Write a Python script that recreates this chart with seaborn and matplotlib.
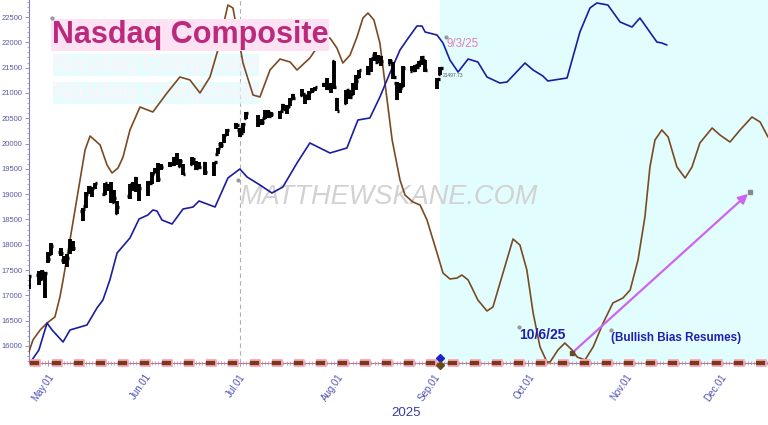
import numpy as np
import pandas as pd
import matplotlib
matplotlib.use("Agg")
import matplotlib.pyplot as plt
import matplotlib.dates as mdates
import seaborn as sns

sns.set_style("white")
plt.rcParams["font.family"] = ["Liberation Sans", "DejaVu Sans"]

base = pd.Timestamp("2025-05-01")

# --- daily OHLC bars (Nasdaq Composite)
bar_dates = [
    "2025-04-25", "2025-04-28", "2025-04-29", "2025-04-30", "2025-05-01", "2025-05-02",
    "2025-05-05", "2025-05-06", "2025-05-07", "2025-05-08", "2025-05-09",
    "2025-05-12", "2025-05-13", "2025-05-14", "2025-05-15", "2025-05-16",
    "2025-05-19", "2025-05-20", "2025-05-21", "2025-05-22", "2025-05-23",
    "2025-05-27", "2025-05-28", "2025-05-29", "2025-05-30",
    "2025-06-02", "2025-06-03", "2025-06-04", "2025-06-05", "2025-06-06",
    "2025-06-09", "2025-06-10", "2025-06-11", "2025-06-12", "2025-06-13",
    "2025-06-16", "2025-06-17", "2025-06-18", "2025-06-20",
    "2025-06-23", "2025-06-24", "2025-06-25", "2025-06-26", "2025-06-27",
    "2025-06-30", "2025-07-01", "2025-07-02", "2025-07-03",
    "2025-07-07", "2025-07-08", "2025-07-09", "2025-07-10", "2025-07-11",
    "2025-07-14", "2025-07-15", "2025-07-16", "2025-07-17", "2025-07-18",
    "2025-07-21", "2025-07-22", "2025-07-23", "2025-07-24", "2025-07-25",
    "2025-07-28", "2025-07-29", "2025-07-30", "2025-07-31", "2025-08-01",
    "2025-08-04", "2025-08-05", "2025-08-06", "2025-08-07", "2025-08-08",
    "2025-08-11", "2025-08-12", "2025-08-13", "2025-08-14", "2025-08-15",
    "2025-08-18", "2025-08-19", "2025-08-20", "2025-08-21", "2025-08-22",
    "2025-08-25", "2025-08-26", "2025-08-27", "2025-08-28", "2025-08-29",
    "2025-09-02", "2025-09-03",
]
bar_open = [
    17180, 17400, 17320, 17150, 17770, 17820,
    17850, 17700, 17740, 17890, 17990,
    18660, 18760, 19080, 19010, 19140,
    19000, 19130, 19070, 18850, 18630,
    18970, 19210, 19310, 19150,
    19070, 19230, 19440, 19500, 19530,
    19590, 19620, 19780, 19550, 19440,
    19590, 19610, 19540, 19610,
    19480, 19800, 19990, 20060, 20220,
    20370, 20270, 20210, 20510,
    20510, 20430, 20500, 20600, 20540,
    20560, 20760, 20700, 20750, 20950,
    20950, 20960, 20950, 21060, 21080,
    21170, 21250, 21130, 21630, 20880,
    20800, 21050, 20980, 21300, 21320,
    21460, 21490, 21750, 21620, 21700,
    21580, 21600, 21200, 21080, 21130,
    21440, 21450, 21510, 21640, 21660,
    21170, 21380,
]
bar_high = [
    17395, 17480, 17500, 17460, 17850, 18030,
    17940, 17780, 17820, 18120, 18070,
    18720, 19040, 19170, 19140, 19220,
    19230, 19200, 19240, 19080, 18860,
    19210, 19240, 19340, 19200,
    19260, 19430, 19520, 19610, 19600,
    19640, 19730, 19810, 19690, 19600,
    19740, 19650, 19630, 19640,
    19640, 19920, 20040, 20180, 20290,
    20410, 20310, 20400, 20630,
    20560, 20490, 20660, 20670, 20620,
    20650, 20790, 20770, 20900, 20970,
    21080, 20960, 21030, 21090, 21110,
    21200, 21300, 21200, 21640, 20890,
    21060, 21060, 21190, 21350, 21460,
    21540, 21690, 21800, 21740, 21720,
    21670, 21610, 21210, 21190, 21530,
    21530, 21560, 21630, 21730, 21660,
    21300, 21520,
]
bar_low = [
    17125, 17200, 17300, 16950, 17640, 17790,
    17780, 17620, 17560, 17820, 17870,
    18470, 18720, 19000, 18950, 19100,
    18980, 19060, 18830, 18830, 18600,
    18900, 19070, 19050, 18870,
    18960, 19200, 19420, 19250, 19470,
    19540, 19560, 19580, 19530, 19370,
    19580, 19480, 19500, 19380,
    19350, 19790, 19910, 20010, 20140,
    20280, 20120, 20200, 20480,
    20320, 20370, 20480, 20510, 20520,
    20480, 20670, 20580, 20740, 20860,
    20940, 20790, 20870, 20990, 21030,
    21110, 21050, 20990, 21070, 20650,
    20790, 20880, 20960, 21060, 21290,
    21360, 21410, 21640, 21600, 21530,
    21570, 21280, 20870, 21000, 21120,
    21440, 21420, 21510, 21550, 21410,
    21080, 21350,
]
bar_close = [
    17382, 17366, 17461, 17446, 17710, 17977,
    17844, 17690, 17738, 17928, 17929,
    18708, 19010, 19146, 19112, 19211,
    19215, 19143, 18872, 18926, 18737,
    19199, 19101, 19175, 19114,
    19243, 19399, 19460, 19298, 19530,
    19591, 19715, 19615, 19662, 19407,
    19701, 19521, 19546, 19447,
    19631, 19913, 19973, 20168, 20273,
    20370, 20202, 20394, 20601,
    20412, 20418, 20611, 20630, 20586,
    20640, 20677, 20730, 20885, 20896,
    20974, 20892, 21020, 21058, 21108,
    21179, 21098, 21130, 21122, 20650,
    21053, 20916, 21169, 21242, 21450,
    21385, 21681, 21713, 21710, 21623,
    21630, 21315, 21172, 21100, 21496,
    21449, 21544, 21590, 21705, 21455,
    21280, 21497,
]

# --- blue projection line (days from May 1, value)
proj_day = [-6.7, -5.1, -2.9, -0.3, 1.3, 4.8, 7.0, 12.4, 15.6, 17.5, 19.7, 22.0,
            26.1, 29.0, 31.8, 33.4, 34.7, 36.3, 39.5, 43.0, 46.2, 48.1, 53.2,
            57.3, 61.1, 63.4, 67.5, 71.3, 74.8, 79.3, 83.4, 89.8, 95.2, 98.7,
            102.5, 105.7, 108.9, 112.1, 114.3, 117.5, 119.1, 120.1, 123.9, 125.8,
            128.0, 130.6, 133.8, 136.9, 139.8, 143.9, 146.2, 151.9, 154.5, 157.6,
            159.2, 165.3, 169.4, 172.6, 174.8, 178.3, 182.2, 186.0, 188.5, 190.1,
            193.9, 195.5, 197.1]
proj_val = [15467, 15723, 15921, 16454, 16316, 16079, 16316, 16415, 16751, 16909, 17304, 17837,
            18134, 18509, 18588, 18687, 18667, 18489, 18410, 18706, 18746, 18865, 18746,
            19319, 19497, 19339, 19181, 19023, 19141, 19616, 20011, 19813, 19912, 20465,
            20505, 20920, 21394, 21848, 22046, 22322, 22322, 22204, 22144, 21986,
            21651, 21413, 21670, 21611, 21315, 21196, 21216, 21591, 21453, 21334,
            21236, 21295, 22204, 22678, 22777, 22737, 22401, 22302, 22480, 22342,
            22006, 21986, 21947]

# --- brown cycle curve (days from May 1, value)
cycle_day = [-6.4, -4.8, -2.5, -0.3, 2.2, 3.8, 4.8, 7.0, 10.2, 11.8, 13.4, 16.6,
             18.8, 20.4, 22.3, 23.9, 26.1, 29.3, 33.4, 37.9, 42.0, 45.2, 48.4,
             51.6, 54.1, 55.7, 57.3, 58.9, 60.5, 62.1, 65.3, 67.5, 70.7, 73.9,
             77.1, 79.3, 83.4, 87.3, 89.8, 92.0, 93.9, 96.2, 98.4, 100.3, 101.9,
             103.8, 105.7, 108.0, 109.6, 112.1, 113.7, 116.2, 118.5, 120.7, 123.9,
             125.8, 128.0, 130.3, 131.8, 133.8, 136.9, 139.8, 141.7, 144.9, 148.1,
             150.3, 152.5, 154.5, 156.7, 158.9, 159.9, 162.4, 164.6, 166.9, 168.5,
             171.0, 173.6, 176.8, 179.9, 183.1, 185.4, 187.9, 190.1, 191.7, 193.3,
             195.5, 197.5, 200.3, 202.9, 205.1, 207.6, 211.5, 214.0, 217.2, 220.4,
             224.2, 226.8, 229.3]
cycle_val = [15822, 16119, 16316, 16454, 16573, 16968, 17304, 18094, 19280, 19872, 20149, 19971,
             19576, 19418, 19517, 19734, 20268, 20722, 20623, 20999, 21315, 21256, 20999,
             21315, 21848, 22302, 22737, 22678, 22144, 21591, 20959, 20920, 21453, 21670,
             21611, 21453, 21690, 22046, 22085, 21888, 21591, 21749, 22105, 22480, 22579,
             22441, 21986, 20860, 20070, 19280, 18983, 18845, 18786, 18489, 17837,
             17442, 17324, 17343, 17403, 17304, 16909, 16692, 16771, 17442, 18114,
             17995, 17502, 16652, 15980, 15684, 15684, 15921, 16059, 15921, 15783,
             15723, 15980, 16454, 16850, 16948, 17106, 17699, 18549, 19537, 20070,
             20268, 20129, 19537, 19319, 19537, 20011, 20307, 20169, 20030, 20268,
             20524, 20425, 20129]

# arrow (days from May 1, value)
arrow_day = [166.9, 223.6]
arrow_val = [15862, 19043]

y_ticks = list(range(16000, 23000, 500))
month_ticks = ["2025-05-01", "2025-06-01", "2025-07-01", "2025-08-01",
               "2025-09-01", "2025-10-01", "2025-11-01", "2025-12-01"]
month_labels = ["May.01", "Jun.01", "Jul.01", "Aug.01", "Sep.01", "Oct.01", "Nov.01", "Dec.01"]


def day_to_num(d):
    return mdates.date2num(base + pd.to_timedelta(np.asarray(d, dtype=float), unit="D"))


proj = pd.DataFrame({"x": day_to_num(proj_day), "y": proj_val})
cycle = pd.DataFrame({"x": day_to_num(cycle_day), "y": cycle_val})
bx = mdates.date2num(pd.to_datetime(bar_dates))

fig = plt.figure(figsize=(7.68, 4.25), dpi=100)
ax = fig.add_axes([29 / 768, 62 / 425, 739 / 768, 363 / 425])

x0, x1 = day_to_num([-6.05, 229.3])
ax.set_xlim(x0, x1)
ax.set_ylim(15664, 22836)

# shaded forecast zone from 9/3/25
ax.axvspan(mdates.date2num(pd.Timestamp("2025-09-03")), x1, color="#e2fdfd", zorder=0, lw=0)
ax.axvline(mdates.date2num(pd.Timestamp("2025-07-01")), color="#b0b0b0", lw=0.8, ls=(0, (4, 3)), zorder=1)

# watermark and faded echo of the title
ax.text(day_to_num(108.3), 18944, "MATTHEWSKANE.COM", fontsize=19.5, style="italic",
        color="#d2d2d2", ha="center", va="center", zorder=1)
for gy in [21552, 20999]:
    ax.text(day_to_num(1.6), gy, "Nasdaq Composite", fontsize=17.5, color="#fff2fa",
            ha="left", va="center", zorder=1,
            bbox=dict(facecolor="#d4fbfd", edgecolor="none", pad=0.1, alpha=0.55))

# lines
sns.lineplot(data=cycle, x="x", y="y", color="#7a4a22", lw=1.2, ax=ax, zorder=3, sort=False)
sns.lineplot(data=proj, x="x", y="y", color="#1c1ca0", lw=1.2, ax=ax, zorder=3, sort=False)

# OHLC bars
ax.vlines(bx, bar_low, bar_high, color="black", lw=2.8, zorder=4)
ax.hlines(bar_open, bx - 0.7, bx, color="black", lw=2.4, zorder=4)
ax.hlines(bar_close, bx, bx + 0.7, color="black", lw=2.4, zorder=4)

# arrow
ax.annotate("", xy=(day_to_num(arrow_day[1]), arrow_val[1]),
            xytext=(day_to_num(arrow_day[0]), arrow_val[0]),
            arrowprops=dict(arrowstyle="-|>", color="#cc66ee", lw=1.6, mutation_scale=14),
            zorder=5)
ax.plot(day_to_num(arrow_day[:1]), arrow_val[:1], marker="s", ms=3.5, color="#6b4a2a", zorder=6)
ax.plot(day_to_num(arrow_day[1:]), arrow_val[1:], marker="s", ms=2.5, color="#888888", zorder=6)

# annotations
ax.text(day_to_num(1.3), 22144, "Nasdaq Composite", fontsize=22, fontweight="bold",
        color="#bb2a7c", ha="left", va="center", zorder=6,
        bbox=dict(facecolor="#fde2f3", edgecolor="none", pad=0.5))
ax.text(day_to_num(126.8), 21967, "9/3/25", fontsize=8.3, color="#e27fb8", ha="left", va="center", zorder=6)
ax.text(day_to_num(125.8), 21354, "21497.73", fontsize=3.5, color="#555555", ha="left", va="center", zorder=6)
ax.text(day_to_num(150.0), 16217, "10/6/25", fontsize=10, fontweight="bold", color="#1f1fb0",
        ha="left", va="center", zorder=6)
ax.text(day_to_num(179.3), 16158, "(Bullish Bias Resumes)", fontsize=8.4, fontweight="bold",
        color="#1f1fb0", ha="left", va="center", zorder=6)
dot_day = [1.3, 126.8, 150.0, 179.3, 60.5]
dot_val = [22480, 22105, 16375, 16316, 19280]
ax.scatter(day_to_num(dot_day), dot_val, s=4, color="#999999", zorder=6)

# weekly markers on the time axis
week_num = mdates.date2num(pd.date_range("2025-04-27", "2025-12-16", freq="7D"))
ax.plot(week_num, [15664] * len(week_num), ls="none",
        marker=[(-1.6, -1), (1.6, -1), (1.6, 1), (-1.6, 1)], ms=7,
        color="#7a3a1a", mec="#f5a8b8", mew=1.3, clip_on=False, zorder=7)
sep3 = mdates.date2num(pd.Timestamp("2025-09-03"))
ax.plot([sep3], [15770], marker="D", ms=4.5, color="#2020cc", clip_on=False, zorder=8)
ax.plot([sep3], [15630], marker="D", ms=4.5, color="#6b4a1a", clip_on=False, zorder=8)

# axes styling
for s in ["top", "right"]:
    ax.spines[s].set_visible(False)
ax.spines["left"].set_color("#8080c0")
ax.spines["bottom"].set_color("#d07080")
ax.spines["left"].set_linewidth(0.8)
ax.spines["bottom"].set_linewidth(0.8)

ax.set_yticks(y_ticks)
ax.set_yticklabels([str(v) for v in y_ticks])
ax.yaxis.set_minor_locator(plt.MultipleLocator(100))
ax.tick_params(axis="y", which="major", labelsize=5.5, labelcolor="#5a5aa8", color="#8080c0",
               length=3, width=0.6, left=True, pad=1.5)
ax.tick_params(axis="y", which="minor", color="#8080c0", length=1.5, width=0.5, left=True)

ax.set_xticks(mdates.date2num(pd.to_datetime(month_ticks)))
ax.set_xticklabels(month_labels, rotation=55, ha="right", rotation_mode="anchor")
ax.xaxis.set_minor_locator(mdates.DayLocator())
ax.tick_params(axis="x", which="major", labelsize=7, labelcolor="#5050b8", color="#8080c0",
               length=5, width=0.6, bottom=True, direction="inout", pad=4)
ax.tick_params(axis="x", which="minor", color="#8080c0", length=2.5, width=0.4,
               bottom=True, direction="inout")
ax.set_xlabel("")
ax.set_ylabel("")

fig.text(406 / 768, 1 - 413 / 425, "2025", fontsize=9.5, color="#3a3aa0", ha="center", va="center")

fig.savefig("out.png", dpi=100)
